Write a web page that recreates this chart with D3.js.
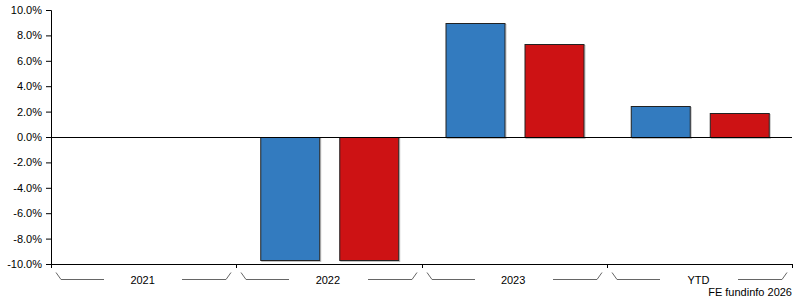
<!DOCTYPE html>
<html>
<head>
<meta charset="utf-8">
<script src="https://cdn.jsdelivr.net/npm/d3@7"></script>
<style>
  body { margin: 0; background: #fff; }
  text { font-family: "Liberation Sans", Arial, sans-serif; font-size: 11px; fill: #000; }
</style>
</head>
<body>
<div id="chart"></div>
<script>
// categories and series values (percent); null = no data
var categories = ["2021", "2022", "2023", "YTD"];
var seriesA = [null, -9.7, 9.0, 2.46];
var seriesB = [null, -9.7, 7.32, 1.87];
var yTicks = [-10, -8, -6, -4, -2, 0, 2, 4, 6, 8, 10];
var colors = ["#337bbf", "#cd1214"];

var svgWidth = 795, svgHeight = 300;
var margin = { top: 10, right: 3, bottom: 36, left: 51 };
var width = svgWidth - margin.left - margin.right;
var height = svgHeight - margin.top - margin.bottom;

var svg = d3.select("#chart").append("svg")
  .attr("width", svgWidth)
  .attr("height", svgHeight);

var g = svg.append("g")
  .attr("transform", "translate(" + margin.left + "," + margin.top + ")");

var x = d3.scaleBand().domain(categories).range([0, width]);
var y = d3.scaleLinear().domain([-10, 10]).range([height, 0]);

// inner band for the two series
var x1 = d3.scaleBand().domain([0, 1]).range([0, x.bandwidth()])
  .paddingInner(0.253).paddingOuter(0.3);

// y axis
var yAxis = g.append("g")
  .call(d3.axisLeft(y).tickValues(yTicks).tickSize(5).tickPadding(4)
    .tickFormat(function(d) { return d.toFixed(1) + "%"; }));
yAxis.select(".domain").attr("stroke", "#000");
yAxis.selectAll("text").style("font-size", "11px").attr("font-family", null);

// x axis at bottom with boundary ticks
var xAxisG = g.append("g").attr("transform", "translate(0," + height + ")");
xAxisG.append("line")
  .attr("x1", 0).attr("x2", width).attr("y1", 0.5).attr("y2", 0.5)
  .attr("stroke", "#000");
var bounds = categories.map(function(c) { return x(c); }).concat([width]);
xAxisG.selectAll(".btick").data(bounds).enter().append("line")
  .attr("x1", function(d) { return Math.round(d) + 0.5; })
  .attr("x2", function(d) { return Math.round(d) + 0.5; })
  .attr("y1", 0).attr("y2", 4)
  .attr("stroke", "#000");

// brackets + labels
var brackets = xAxisG.selectAll(".bracket").data(categories).enter().append("g");
brackets.append("path")
  .attr("d", function(c) {
    var a = Math.round(x(c)), b = Math.round(x(c) + x.bandwidth());
    return "M" + (a + 5) + ",8.5 L" + (a + 10) + ",15.5 L" + (a + 53) + ",15.5";
  })
  .attr("fill", "none").attr("stroke", "#666");
brackets.append("path")
  .attr("d", function(c) {
    var b = Math.round(x(c) + x.bandwidth());
    return "M" + (b - 54) + ",15.5 L" + (b - 10) + ",15.5 L" + (b - 5) + ",8.5";
  })
  .attr("fill", "none").attr("stroke", "#666");
brackets.append("text")
  .attr("x", function(c) { return x(c) + x.bandwidth() / 2 - 1; })
  .attr("y", 20)
  .attr("text-anchor", "middle")
  .text(function(c) { return c; });

// bars
var rows = categories.map(function(c, i) { return { cat: c, vals: [seriesA[i], seriesB[i]] }; });
var groups = g.selectAll(".grp").data(rows).enter().append("g")
  .attr("transform", function(d) { return "translate(" + x(d.cat) + ",0)"; });

var barData = function(d) {
  return d.vals.map(function(v, j) { return { v: v, j: j }; }).filter(function(e) { return e.v != null; });
};

// shadows
groups.selectAll(".shadow").data(barData).enter().append("rect")
  .attr("x", function(e) { return Math.round(x1(e.j)) + 1.5; })
  .attr("y", function(e) { return Math.round(y(Math.max(0, e.v))) + 1.5; })
  .attr("width", Math.round(x1.bandwidth()))
  .attr("height", function(e) { return Math.round(Math.abs(y(e.v) - y(0))); })
  .attr("fill", "none").attr("stroke", "#999").attr("stroke-opacity", 0.6);

groups.selectAll(".bar").data(barData).enter().append("rect")
  .attr("x", function(e) { return Math.round(x1(e.j)) + 0.5; })
  .attr("y", function(e) { return Math.round(y(Math.max(0, e.v))) + 0.5; })
  .attr("width", Math.round(x1.bandwidth()))
  .attr("height", function(e) { return Math.round(Math.abs(y(e.v) - y(0))); })
  .attr("fill", function(e) { return colors[e.j]; })
  .attr("stroke", "#222");

// zero line
g.append("line")
  .attr("x1", 0).attr("x2", width)
  .attr("y1", Math.round(y(0)) + 0.5).attr("y2", Math.round(y(0)) + 0.5)
  .attr("stroke", "#000");

// credit
svg.append("text")
  .attr("x", 792).attr("y", 296)
  .attr("text-anchor", "end")
  .text("FE fundinfo 2026");
</script>
</body>
</html>
